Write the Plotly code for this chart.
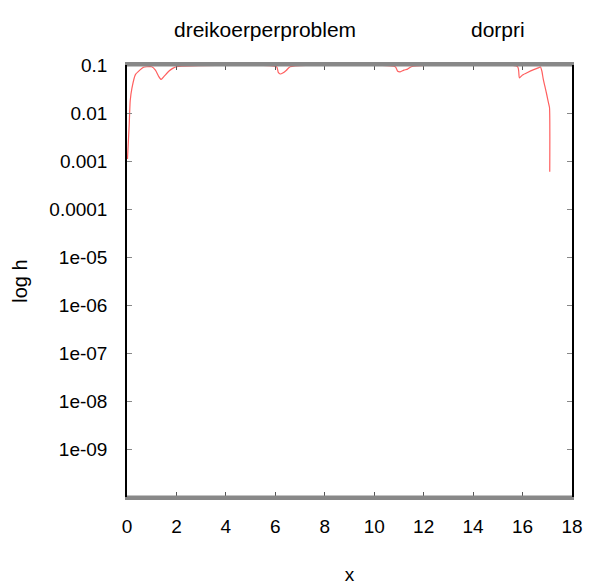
import plotly.graph_objects as go

# step size h over x
x_vals = [0.02, 0.09, 0.13, 0.2, 0.34, 0.54, 0.67, 0.8, 1.0, 1.15, 1.28, 1.38, 1.5, 1.7, 1.85, 2.0,
          6.05, 6.12, 6.2, 6.3, 6.45, 6.6, 10.85, 10.95, 11.05, 11.2, 11.35, 11.5,
          15.8, 15.87, 16.0, 16.2, 16.45, 16.64, 16.72, 16.78, 16.84, 16.92, 16.98, 17.04, 17.09, 17.1]
h_vals = [0.0011, 0.0058, 0.018, 0.033, 0.063, 0.08, 0.09, 0.092, 0.092, 0.078, 0.058, 0.05, 0.058, 0.075, 0.085, 0.092,
          0.092, 0.07, 0.065, 0.068, 0.078, 0.092, 0.092, 0.074, 0.072, 0.078, 0.082, 0.092,
          0.092, 0.054, 0.062, 0.07, 0.08, 0.087, 0.092, 0.075, 0.05, 0.033, 0.024, 0.017, 0.013, 0.0006]

y_tickvals = [1e-1, 1e-2, 1e-3, 1e-4, 1e-5, 1e-6, 1e-7, 1e-8, 1e-9]
y_ticktext = ["0.1", "0.01", "0.001", "0.0001", "1e-05", "1e-06", "1e-07", "1e-08", "1e-09"]
x_tickvals = [0, 2, 4, 6, 8, 10, 12, 14, 16, 18]

FONT = "Liberation Sans, Arial, sans-serif"

fig = go.Figure()
fig.add_trace(go.Scatter(x=x_vals, y=h_vals, mode="lines",
                         line=dict(color="rgb(255,95,95)", width=1.2, shape="spline", smoothing=0.5),
                         showlegend=False))

fig.update_layout(
    width=589, height=586,
    margin=dict(l=127, r=17, t=65, b=89),
    paper_bgcolor="white", plot_bgcolor="white",
    font=dict(family=FONT, size=19, color="black"),
    xaxis=dict(range=[0, 18], tickvals=x_tickvals, ticks="inside", ticklen=5,
               tickcolor="#555", showgrid=False, zeroline=False, automargin=False,
               showline=True, linecolor="#888", linewidth=3, mirror="ticks",
               title=dict(text="x", standoff=32, font=dict(family=FONT, size=19)),
               tickfont=dict(family=FONT, size=19), ticklabelstandoff=10),
    yaxis=dict(type="log", range=[-10, -1], tickvals=y_tickvals, ticktext=y_ticktext,
               ticks="inside", ticklen=5, tickcolor="#888", showgrid=False, automargin=False,
               zeroline=False, showline=True, linecolor="black", linewidth=1.5,
               mirror="ticks", title=dict(text="log h", standoff=16, font=dict(family=FONT, size=20)),
               tickfont=dict(family=FONT, size=19), ticklabelstandoff=14),
)
fig.layout.annotations = [
    dict(text="dreikoerperproblem", x=(265 - 127) / 445, y=1 + (65 - 30) / 432,
         xref="paper", yref="paper", showarrow=False, xanchor="center", yanchor="middle",
         font=dict(family=FONT, size=21)),
    dict(text="dorpri", x=(498 - 127) / 445, y=1 + (65 - 30) / 432,
         xref="paper", yref="paper", showarrow=False, xanchor="center", yanchor="middle",
         font=dict(family=FONT, size=21)),
]
fig.add_shape(type="line", xref="paper", yref="paper", x0=0, x1=1, y0=1, y1=1,
              line=dict(color="#888", width=3))
fig.add_shape(type="line", xref="paper", yref="paper", x0=0, x1=1, y0=0, y1=0,
              line=dict(color="#888", width=3))

fig.write_html("out.html")
